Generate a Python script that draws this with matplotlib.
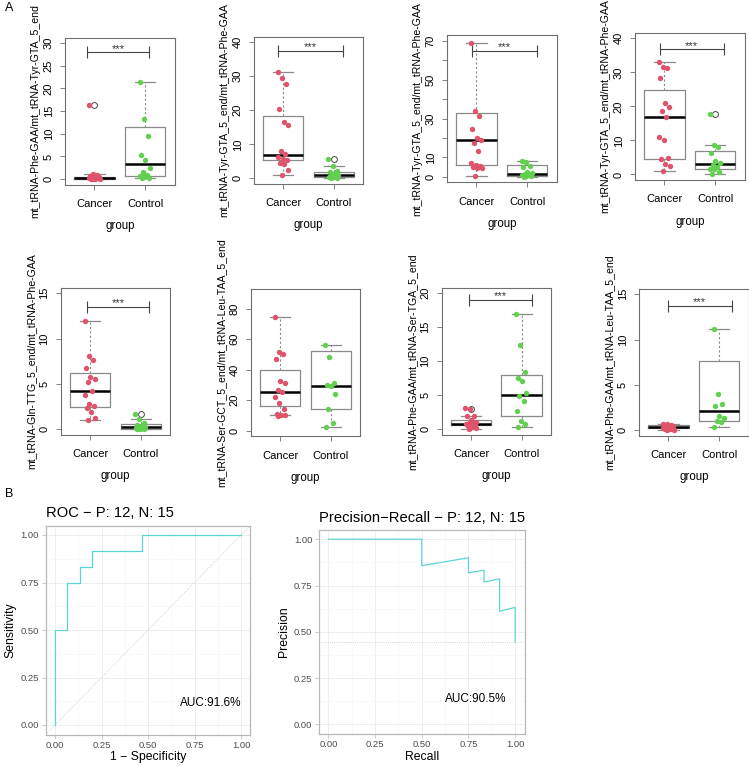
import numpy as np
import matplotlib
matplotlib.use("Agg")
from matplotlib import pyplot as plt

plt.rcParams['font.family'] = ['Liberation Sans', 'DejaVu Sans']

# ---------------- data ----------------
groups = ['Cancer', 'Control']

ylabels = ['mt_tRNA-Phe-GAA/mt_tRNA-Tyr-GTA_5_end',
           'mt_tRNA-Tyr-GTA_5_end/mt_tRNA-Phe-GAA',
           'mt_tRNA-Tyr-GTA_5_end/mt_tRNA-Phe-GAA',
           'mt_tRNA-Tyr-GTA_5_end/mt_tRNA-Phe-GAA',
           'mt_tRNA-Gln-TTG_5_end/mt_tRNA-Phe-GAA',
           'mt_tRNA-Ser-GCT_5_end/mt_tRNA-Leu-TAA_5_end',
           'mt_tRNA-Phe-GAA/mt_tRNA-Ser-TGA_5_end',
           'mt_tRNA-Phe-GAA/mt_tRNA-Leu-TAA_5_end']

# box stats: [whisker low, q1, median, q3, whisker high]
p1_cancer = [16.4, 1.1, 0.9, 0.8, 0.6, 0.5, 0.4, 0.35, 0.3, 0.2, 0.15, 0.1, 0.08, 0.05, 0.02]
p1_control = [21.5, 13.2, 9.6, 5.4, 4.2, 2.5, 1.6, 0.9, 0.6, 0.4, 0.3, 0.15]
p1_cancer_box = [0.0, 0.05, 0.15, 0.55, 1.1]
p1_control_box = [0.15, 0.66, 3.4, 11.4, 21.5]
p1_out = [[16.4], []]

p2_cancer = [31.3, 29.6, 27.6, 20.3, 16.5, 15.7, 7.9, 7.2, 6.3, 5.8, 5.3, 4.6, 4.3, 2.4, 0.9]
p2_control = [5.8, 3.6, 2.3, 1.9, 1.2, 0.9, 0.7, 0.5, 0.4, 0.3, 0.2, 0.1]
p2_cancer_box = [0.9, 5.4, 6.8, 18.3, 31.3]
p2_control_box = [0.0, 0.4, 0.9, 1.85, 3.6]
p2_out = [[], [5.8]]

p3_cancer = [69.0, 34.0, 31.4, 24.7, 20.2, 18.9, 17.5, 13.2, 6.9, 6.0, 5.5, 5.1, 4.8, 4.6, 0.5]
p3_control = [7.9, 7.4, 5.7, 5.1, 2.6, 2.0, 1.5, 1.0, 0.8, 0.5, 0.3, 0.1]
p3_cancer_box = [0.5, 6.2, 18.7, 32.6, 69.0]
p3_control_box = [0.0, 0.35, 1.7, 6.3, 7.9]
p3_out = [[], []]

p4_cancer = [33.0, 31.5, 31.4, 28.4, 20.9, 19.7, 18.6, 16.9, 11.0, 10.2, 4.8, 4.4, 3.1, 2.5, 1.1]
p4_control = [17.8, 8.7, 8.1, 6.4, 3.9, 3.4, 2.9, 2.2, 1.7, 1.6, 0.6, 0.2]
p4_cancer_box = [1.1, 4.5, 16.9, 24.7, 33.0]
p4_control_box = [0.2, 1.7, 3.15, 7.0, 8.65]
p4_out = [[], [17.8]]

p5_cancer = [11.93, 8.12, 7.65, 6.8, 5.78, 5.56, 5.27, 4.24, 3.8, 2.78, 2.56, 2.34, 1.9, 1.3, 1.06]
p5_control = [1.7, 1.17, 0.73, 0.5, 0.4, 0.3, 0.2, 0.15, 0.1, 0.06, 0.03, 0.01]
p5_cancer_box = [1.06, 2.45, 4.2, 6.18, 11.93]
p5_control_box = [0.0, 0.07, 0.26, 0.62, 1.17]
p5_out = [[], [1.65]]

p6_cancer = [74.3, 51.3, 50.5, 46.7, 32.6, 31.3, 26.7, 25.1, 21.8, 17.9, 13.9, 10.8, 10.4, 9.9, 9.7]
p6_control = [56.2, 48.0, 31.3, 30.0, 29.3, 24.2, 13.9, 4.85, 2.4]
p6_cancer_box = [9.9, 15.9, 25.1, 39.7, 74.3]
p6_control_box = [2.4, 13.9, 29.3, 52.5, 56.2]
p6_out = [[], []]

p7_cancer = [3.1, 3.0, 1.95, 1.9, 1.4, 1.15, 1.0, 0.9, 0.8, 0.7, 0.65, 0.5, 0.35, 0.2, 0.1]
p7_control = [16.95, 12.4, 8.5, 7.5, 7.1, 5.3, 4.95, 4.1, 2.7, 1.3, 0.73, 0.35]
p7_cancer_box = [0.1, 0.68, 0.83, 1.37, 1.9]
p7_control_box = [0.3, 2.0, 5.05, 8.0, 16.95]
p7_out = [[3.05], []]

p8_cancer = [0.7, 0.65, 0.6, 0.55, 0.5, 0.45, 0.4, 0.35, 0.3, 0.25, 0.2, 0.15, 0.1, 0.05, 0.02]
p8_control = [11.2, 4.0, 2.85, 2.63, 1.53, 1.31, 1.06, 0.88, 0.33]
p8_cancer_box = [0.0, 0.22, 0.36, 0.62, 0.7]
p8_control_box = [0.33, 1.06, 2.08, 7.63, 11.2]
p8_out = [[], []]

# significance bars: (x start, x end, height); None = not shown
brackets = [(0.86, 2.08, 28.0), (0.9, 2.17, 37.5), (0.92, 2.2, 64.8), (0.91, 2.17, 36.8),
            (0.93, 2.17, 13.5), None, (0.97, 2.2, 19.0), (0.99, 2.25, 13.7)]
ylims = [(-1.2, 31.2), (-1.6, 41.6), (-2.8, 72.8), (-1.6, 41.6),
         (-0.6, 15.6), (-3.6, 93.0), (-0.8, 20.8), (-0.6, 15.6)]
yticks = [[0, 5, 10, 15, 20, 25, 30], [0, 10, 20, 30, 40], [0, 10, 20, 30, 40, 50, 60, 70],
          [0, 10, 20, 30, 40], [0, 5, 10, 15], [0, 20, 40, 60, 80], [0, 5, 10, 15, 20], [0, 5, 10, 15]]
ytick_shown = [None, None, [0, 10, 30, 50, 70], None, None, None, None, None]

# ROC / PR curves
n_pos, n_neg = 12, 15
roc_fpr = [0, 0, 0.0667, 0.0667, 0.1333, 0.1333, 0.2, 0.2, 0.4667, 0.4667, 1.0]
roc_tpr = [0, 0.5, 0.5, 0.75, 0.75, 0.8333, 0.8333, 0.9167, 0.9167, 1.0, 1.0]
pr_recall = [0, 0.5, 0.5, 0.75, 0.75, 0.8333, 0.8333, 0.9167, 0.9167, 1.0, 1.0]
pr_precision = [1.0, 1.0, 0.857, 0.9, 0.818, 0.833, 0.769, 0.786, 0.611, 0.632, 0.444]
roc_auc = 91.6
pr_auc = 90.5

# ---------------- layout ----------------
W, H = 749, 766
fig = plt.figure(figsize=(W / 100, H / 100), dpi=100)


def px_axes(left, top, w, h):
    return fig.add_axes([left / W, 1 - (top + h) / H, w / W, h / H])


cancer_col = '#DF536B'
control_col = '#61D04F'
frame_col = '#6E6E6E'
box_col = '#8A8A8A'

panels = [
    (p1_cancer, p1_control, p1_cancer_box, p1_control_box, p1_out),
    (p2_cancer, p2_control, p2_cancer_box, p2_control_box, p2_out),
    (p3_cancer, p3_control, p3_cancer_box, p3_control_box, p3_out),
    (p4_cancer, p4_control, p4_cancer_box, p4_control_box, p4_out),
    (p5_cancer, p5_control, p5_cancer_box, p5_control_box, p5_out),
    (p6_cancer, p6_control, p6_cancer_box, p6_control_box, p6_out),
    (p7_cancer, p7_control, p7_cancer_box, p7_control_box, p7_out),
    (p8_cancer, p8_control, p8_cancer_box, p8_control_box, p8_out),
]
corners = [(65, 37.6), (253.8, 36.8), (447, 35.3), (635, 32.9),
           (60.7, 287.8), (250.7, 289), (441.6, 287.8), (639, 288.8)]
box_w, box_h = 109.5, 147


def jitter(n):
    return ((np.arange(n) * 0.381966) % 1 - 0.5) * 0.22


for i, (cancer, control, cbox, kbox, outs) in enumerate(panels):
    ax = px_axes(corners[i][0], corners[i][1], box_w, box_h)
    stats = []
    for b, o in zip([cbox, kbox], outs):
        stats.append(dict(whislo=b[0], q1=b[1], med=b[2], q3=b[3], whishi=b[4], fliers=o))
    ax.bxp(stats, positions=[1, 2], widths=0.8, capwidths=0.4,
           boxprops=dict(color=box_col, lw=0.9),
           medianprops=dict(color='black', lw=1.8),
           whiskerprops=dict(color=box_col, lw=0.8, ls=(0, (2, 2))),
           capprops=dict(color=box_col, lw=0.9),
           flierprops=dict(marker='o', mfc='white', mec='#444444', ms=4.2, mew=0.7))
    for pos, vals, col in [(1, cancer, cancer_col), (2, control, control_col)]:
        ax.scatter(pos + jitter(len(vals)), vals, s=15, color=col, lw=0, zorder=4)

    br = brackets[i]
    if br is not None:
        ax.plot([br[0], br[1]], [br[2], br[2]], color='#444444', lw=0.8)
        ax.plot([br[0], br[1]], [br[2], br[2]], ls='', marker='|', ms=9, mew=0.8, color='#444444')
        ax.annotate('***', ((br[0] + br[1]) / 2, br[2]), xytext=(0, 2.5), textcoords='offset points',
                    ha='center', va='center', fontsize=8, color='#333333')

    ax.set_xlim(0.42, 2.58)
    ax.set_ylim(*ylims[i])
    ax.set_xticks([1, 2])
    ax.set_xticklabels(groups)
    ax.set_yticks(yticks[i])
    shown = ytick_shown[i]
    ax.set_yticklabels([str(t) if shown is None or t in shown else '' for t in yticks[i]])
    ax.tick_params(axis='both', length=3.5, width=0.6, color=frame_col, labelsize=8)
    ax.tick_params(axis='x', pad=7)
    ax.tick_params(axis='y', pad=4.5, labelrotation=90)
    for lab in ax.get_yticklabels():
        lab.set_va('center')
    for s in ax.spines.values():
        s.set_color(frame_col)
        s.set_linewidth(0.8)
    ax.set_xlabel('group', fontsize=8.3)
    ax.xaxis.set_label_coords(0.5, -(220 - 184.4) / box_h)
    ax.set_ylabel(ylabels[i], fontsize=7.6)
    ax.yaxis.set_label_coords(-0.222, 0.5)

fig.text(5 / W, 1 - 8 / H, 'A', fontsize=9, ha='left', va='center')
fig.text(5 / W, 1 - 494 / H, 'B', fontsize=9, ha='left', va='center')

# ---------------- ROC / PR (ggplot-like) ----------------
line_col = '#5DD5D5'
grid_major = '#EBEBEB'
grid_minor = '#F5F5F5'


def gg_style(ax):
    ax.set_xlim(-0.05, 1.05)
    ax.set_ylim(-0.05, 1.05)
    ticks = [0, 0.25, 0.5, 0.75, 1.0]
    lbls = ['0.00', '0.25', '0.50', '0.75', '1.00']
    ax.set_xticks(ticks)
    ax.set_xticklabels(lbls)
    ax.set_yticks(ticks)
    ax.set_yticklabels(lbls)
    ax.set_xticks([0.125, 0.375, 0.625, 0.875], minor=True)
    ax.set_yticks([0.125, 0.375, 0.625, 0.875], minor=True)
    ax.grid(which='major', color=grid_major, lw=0.6)
    ax.grid(which='minor', color=grid_minor, lw=0.4)
    ax.set_axisbelow(True)
    for s in ax.spines.values():
        s.set_color('#B8B8B8')
        s.set_linewidth(0.9)
    ax.tick_params(which='major', length=2.75, width=0.5, color='#B8B8B8',
                   labelsize=6.8, labelcolor='#4D4D4D', pad=2)
    ax.tick_params(which='minor', length=0)


ax_roc = px_axes(45.7, 525.5, 204.6, 209)
gg_style(ax_roc)
ax_roc.axline((0, 0), (1, 1), color='#C8C8C8', lw=0.6, ls=(0, (1, 1.5)))
ax_roc.plot(roc_fpr, roc_tpr, color=line_col, lw=0.9)
ax_roc.text(0.835, 0.115, 'AUC:%.1f%%' % roc_auc, fontsize=8.5, ha='center', va='center')
ax_roc.set_xlabel('1 \u2212 Specificity', fontsize=8.8, labelpad=1)
ax_roc.set_ylabel('Sensitivity', fontsize=8.8, labelpad=3)
ax_roc.set_title('ROC \u2212 P: %d, N: %d' % (n_pos, n_neg), loc='left', fontsize=10.6, pad=6)

ax_pr = px_axes(319, 530, 205.5, 203.6)
gg_style(ax_pr)
ax_pr.axhline(n_pos / (n_pos + n_neg), color='#C8C8C8', lw=0.6, ls=(0, (1, 1.5)))
ax_pr.plot(pr_recall, pr_precision, color=line_col, lw=0.9)
ax_pr.text(0.79, 0.137, 'AUC:%.1f%%' % pr_auc, fontsize=8.5, ha='center', va='center')
ax_pr.set_xlabel('Recall', fontsize=8.8, labelpad=1)
ax_pr.set_ylabel('Precision', fontsize=8.8, labelpad=3)
ax_pr.set_title('Precision\u2212Recall \u2212 P: %d, N: %d' % (n_pos, n_neg), loc='left', fontsize=10.6, pad=6)

fig.savefig('out.png', dpi=100)
